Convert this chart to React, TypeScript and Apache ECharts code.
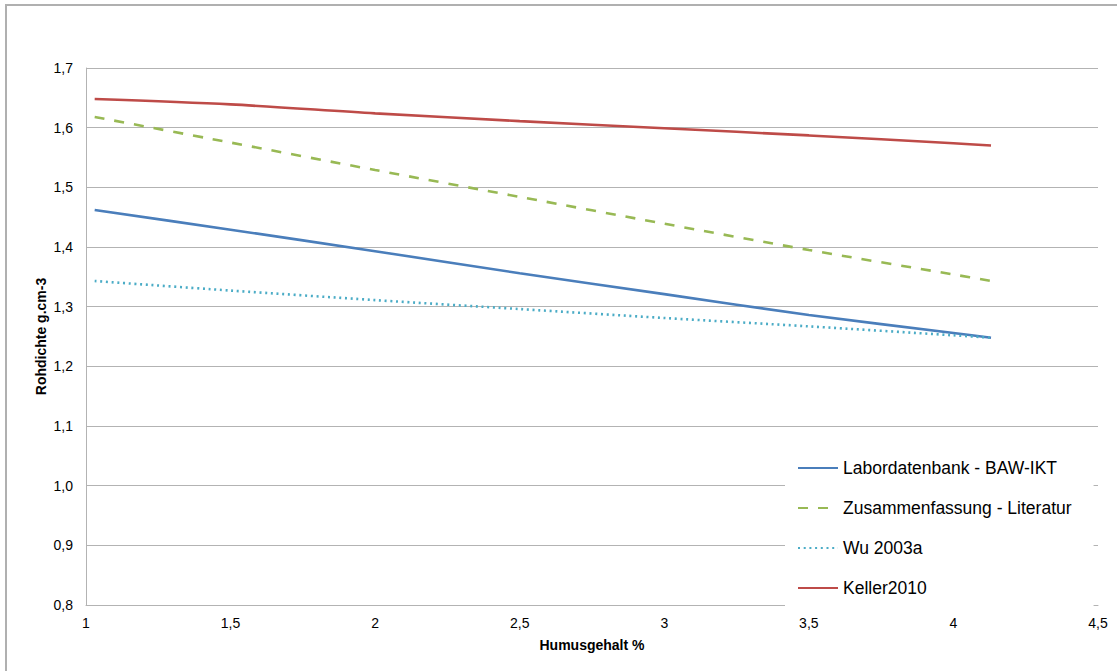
import React, { useEffect, useRef } from "react";
import * as echarts from "echarts";

const xValues = [1.03, 1.5, 2, 2.5, 3, 3.5, 4, 4.13];
const labordatenbank = [1.462, 1.429, 1.393, 1.356, 1.321, 1.286, 1.256, 1.248];
const zusammenfassung = [1.618, 1.575, 1.529, 1.484, 1.439, 1.395, 1.354, 1.343];
const wu2003a = [1.343, 1.327, 1.311, 1.296, 1.281, 1.267, 1.252, 1.248];
const keller2010 = [1.648, 1.639, 1.624, 1.611, 1.599, 1.587, 1.574, 1.57];

const seriesNames = [
  "Labordatenbank - BAW-IKT",
  "Zusammenfassung - Literatur",
  "Wu 2003a",
  "Keller2010",
];

const FONT = "Arial, 'Liberation Sans', sans-serif";

export default function App() {
  const ref = useRef<HTMLDivElement>(null);

  useEffect(() => {
    document.body.style.margin = "0";
    const chart = echarts.init(ref.current!, null, { renderer: "svg" });
    const pair = (ys: number[]) => xValues.map((x, i) => [x, ys[i]]);
    const mk = (name: string, ys: number[], color: string, type: any) => ({
      name,
      type: "line",
      data: pair(ys),
      smooth: 0.3,
      showSymbol: false,
      symbol: "none",
      lineStyle: { color, width: 2.6, type, cap: "butt" },
      itemStyle: { color },
    });
    chart.setOption({
      animation: false,
      backgroundColor: "#ffffff",
      textStyle: { fontFamily: FONT },
      graphic: [
        {
          type: "rect",
          shape: { x: 6, y: 5, width: 1200, height: 800 },
          style: { fill: "none", stroke: "#b0b0b0", lineWidth: 2 },
          silent: true,
          z: -1,
        },
      ],
      grid: { left: 86, top: 68, right: 19, bottom: 66, containLabel: false },
      xAxis: {
        type: "value",
        min: 1,
        max: 4.5,
        interval: 0.5,
        name: "Humusgehalt %",
        nameLocation: "middle",
        nameGap: 33,
        nameMoveOverlap: false,
        nameTextStyle: { fontFamily: FONT, fontSize: 14, fontWeight: "bold", color: "#000" },
        axisLine: { show: true, lineStyle: { color: "#b3b3b3", width: 1 } },
        axisTick: { show: false },
        splitLine: { show: false },
        axisLabel: {
          fontFamily: FONT,
          fontSize: 14,
          color: "#000",
          margin: 11,
          formatter: (v: number) => String(v).replace(".", ","),
        },
      },
      yAxis: {
        type: "value",
        min: 0.8,
        max: 1.7,
        interval: 0.1,
        name: "Rohdichte g.cm-3",
        nameLocation: "middle",
        nameGap: 38,
        nameMoveOverlap: false,
        nameTextStyle: { fontFamily: FONT, fontSize: 14, fontWeight: "bold", color: "#000" },
        axisLine: { show: true, lineStyle: { color: "#b3b3b3", width: 1 } },
        axisTick: { show: false },
        splitLine: { show: true, lineStyle: { color: "#b3b3b3", width: 1 } },
        axisLabel: {
          fontFamily: FONT,
          fontSize: 14,
          color: "#000",
          margin: 13,
          formatter: (v: number) => v.toFixed(1).replace(".", ","),
        },
      },
      legend: {
        orient: "vertical",
        left: 785,
        top: 447,
        padding: [12, 22, 10, 12],
        backgroundColor: "#ffffff",
        itemWidth: 40,
        itemHeight: 14,
        itemGap: 22,
        data: seriesNames,
        itemStyle: { opacity: 0 },
        textStyle: { fontFamily: FONT, fontSize: 17.5, color: "#000" },
        z: 10,
      },
      series: [
        mk(seriesNames[0], labordatenbank, "#4a7ebb", "solid"),
        mk(seriesNames[1], zusammenfassung, "#98b954", [10, 10]),
        mk(seriesNames[2], wu2003a, "#4bacc6", [2, 3.7]),
        mk(seriesNames[3], keller2010, "#be4b48", "solid"),
      ],
    });
    return () => chart.dispose();
  }, []);

  return <div ref={ref} style={{ width: 1117, height: 671 }} />;
}
